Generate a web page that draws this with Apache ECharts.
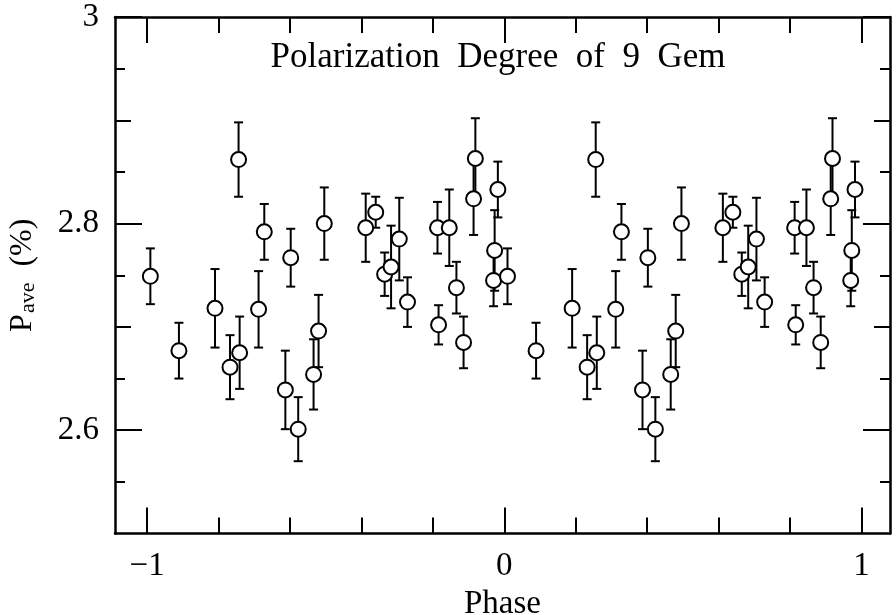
<!DOCTYPE html>
<html>
<head>
<meta charset="utf-8">
<script src="https://cdn.jsdelivr.net/npm/echarts@6/dist/echarts.min.js"></script>
<style>html,body{margin:0;padding:0;background:#fff}#c{width:896px;height:615px}</style>
</head>
<body>
<div id="c"></div>
<script>
// Observations (phase in [0,1)), polarization degree (%), 1-sigma error
const phase = [0.009, 0.089, 0.190, 0.232, 0.256, 0.259, 0.312, 0.328, 0.387, 0.402,
               0.423, 0.466, 0.480, 0.496, 0.612, 0.640, 0.665, 0.683, 0.706, 0.729,
               0.813, 0.816, 0.846, 0.866, 0.886, 0.914, 0.919, 0.970, 0.973, 0.982];
const pave  = [2.749, 2.677, 2.718, 2.661, 2.862, 2.675, 2.717, 2.792, 2.639, 2.767,
               2.601, 2.654, 2.696, 2.800, 2.796, 2.811, 2.751, 2.758, 2.785, 2.724,
               2.796, 2.702, 2.796, 2.738, 2.685, 2.824, 2.863, 2.745, 2.774, 2.833];
const perr  = [0.027, 0.027, 0.038, 0.031, 0.036, 0.035, 0.037, 0.027, 0.038, 0.028,
               0.031, 0.034, 0.035, 0.035, 0.033, 0.015, 0.021, 0.040, 0.040, 0.024,
               0.025, 0.019, 0.037, 0.025, 0.025, 0.035, 0.039, 0.025, 0.039, 0.027];
// Each observation is plotted over two cycles: at (phase - 1) and at phase
const cycles = [-1, 0];

const xMajor = [-1, 0, 1];
const xMinor = [-0.8, -0.6, -0.4, -0.2, 0.2, 0.4, 0.6, 0.8];
const yMajor = [2.6, 2.8, 3];
const yMid   = [2.7, 2.9];
const yMinor = [2.55, 2.65, 2.75, 2.85, 2.95];

const titleText = 'Polarization  Degree  of  9  Gem';
const xName = 'Phase';

const FONT = 'Liberation Serif';
const points = [];
cycles.forEach(c => phase.forEach((p, i) => points.push([+(p + c).toFixed(3), pave[i], perr[i]])));

const XMIN = -1.09, XMAX = 1.08, YMIN = 2.5, YMAX = 3.0;
const fmt = v => String(+v.toFixed(2)).replace('-', '\u2212');

function xAx(pos, ticks, len, opts) {
  return Object.assign({
    type: 'value', position: pos, min: XMIN, max: XMAX, gridIndex: 0,
    axisLine: { show: false, onZero: false },
    axisTick: { show: true, inside: true, length: len, customValues: ticks, lineStyle: { color: '#000', width: 2 } },
    axisLabel: { show: false },
    splitLine: { show: false }
  }, opts || {});
}
function yAx(pos, ticks, len, opts) {
  return Object.assign({
    type: 'value', position: pos, min: YMIN, max: YMAX, gridIndex: 0,
    axisLine: { show: false, onZero: false },
    axisTick: { show: true, inside: true, length: len, customValues: ticks, lineStyle: { color: '#000', width: 2 } },
    axisLabel: { show: false },
    splitLine: { show: false }
  }, opts || {});
}

const axisLineStyle = { show: true, onZero: false, lineStyle: { color: '#000', width: 2.5 } };

const option = {
  backgroundColor: '#fff',
  animation: false,
  title: {
    text: titleText, left: 493, top: 35, textAlign: 'center',
    textStyle: { fontFamily: FONT, fontSize: 35, fontWeight: 'normal', color: '#000' }
  },
  grid: { left: 115, right: 6, top: 17, bottom: 81.5, containLabel: false, outerBoundsMode: 'none' },
  xAxis: [
    xAx('bottom', xMajor, 26, {
      axisLine: axisLineStyle,
      axisLabel: { show: true, customValues: xMajor, formatter: fmt, fontFamily: FONT, fontSize: 33, color: '#000', margin: 16 },
      name: xName, nameLocation: 'middle', nameGap: 50,
      nameTextStyle: { fontFamily: FONT, fontSize: 33, color: '#000' }
    }),
    xAx('bottom', xMinor, 16),
    xAx('top', xMajor, 26, { axisLine: axisLineStyle }),
    xAx('top', xMinor, 16)
  ],
  yAxis: [
    yAx('left', yMajor, 27, {
      axisLine: axisLineStyle,
      axisLabel: { show: true, customValues: yMajor, formatter: fmt, fontFamily: FONT, fontSize: 33, color: '#000', margin: 16 },
      name: '{p|P}{s|ave}{p|  (%)}', nameLocation: 'middle', nameGap: 76, nameRotate: 90,
      nameTextStyle: {
        fontFamily: FONT, color: '#000',
        rich: {
          p: { fontFamily: FONT, fontSize: 32, color: '#000', lineHeight: 34, verticalAlign: 'bottom' },
          s: { fontFamily: FONT, fontSize: 22, color: '#000', lineHeight: 34, verticalAlign: 'bottom', padding: [6, 0, 0, 1] }
        }
      }
    }),
    yAx('left', yMid, 16),
    yAx('left', yMinor, 10),
    yAx('right', yMajor, 27, { axisLine: axisLineStyle }),
    yAx('right', yMid, 16),
    yAx('right', yMinor, 10)
  ],
  series: [
    {
      type: 'custom', xAxisIndex: 0, yAxisIndex: 0, z: 2,
      data: points,
      renderItem: function (params, api) {
        const x = api.value(0), y = api.value(1), e = api.value(2);
        const lo = api.coord([x, y - e]), hi = api.coord([x, y + e]);
        const w = 4.5;
        const st = { stroke: '#000', lineWidth: 2 };
        return {
          type: 'group',
          children: [
            { type: 'line', shape: { x1: lo[0], y1: lo[1], x2: hi[0], y2: hi[1] }, style: st },
            { type: 'line', shape: { x1: lo[0] - w, y1: lo[1], x2: lo[0] + w, y2: lo[1] }, style: st },
            { type: 'line', shape: { x1: hi[0] - w, y1: hi[1], x2: hi[0] + w, y2: hi[1] }, style: st }
          ]
        };
      }
    },
    {
      type: 'scatter', xAxisIndex: 0, yAxisIndex: 0, z: 3,
      data: points.map(p => [p[0], p[1]]),
      symbol: 'circle', symbolSize: 15,
      itemStyle: { color: '#fff', borderColor: '#000', borderWidth: 2, opacity: 1 }
    }
  ]
};

const chart = echarts.init(document.getElementById('c'), null, { renderer: 'canvas' });
chart.setOption(option);
</script>
</body>
</html>
